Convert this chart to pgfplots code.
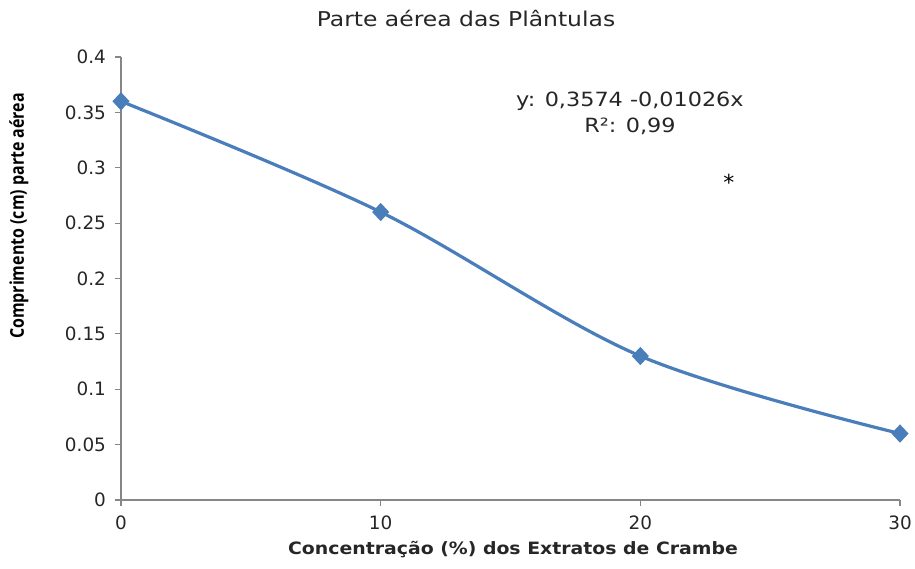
\documentclass[border=0pt]{standalone}
\usepackage{pgfplots}
\pgfplotsset{compat=1.18}
\usepackage{fontspec}
\setmainfont{DejaVu Sans}
\newfontfamily\condfont{Open Sans}
\usepackage{graphicx}
\definecolor{serie}{RGB}{74,126,187}
\definecolor{axgray}{RGB}{134,134,134}
\newcommand{\wide}[1]{\scalebox{1.08}[1]{#1}}
\begin{document}
\begin{tikzpicture}
\useasboundingbox (0,0) rectangle (457.5pt,284pt);
\begin{axis}[
  at={(60.5pt,34pt)}, anchor=south west,
  scale only axis, width=389.5pt, height=221.5pt,
  xmin=0, xmax=30, ymin=0, ymax=0.4,
  xtick={0,10,20,30},
  ytick={0,0.05,0.1,0.15,0.2,0.25,0.3,0.35,0.4},
  yticklabels={0,0.05,0.1,0.15,0.2,0.25,0.3,0.35,0.4},
  xticklabels={0,10,20,30},
  axis x line*=bottom, axis y line*=left,
  axis line style={axgray, line width=0.6pt, -},
  tick style={axgray, line width=0.6pt},
  tick align=outside, major tick length=3pt,
  ticklabel style={font=\fontsize{9.2}{11}\selectfont, text=black!85},
  yticklabel style={xshift=-1pt},
  /pgf/number format/assume math mode=true,
  xticklabel style={yshift=-1.5pt},
  clip=false,
]
\addplot[serie, line width=1.6pt, smooth, tension=0.55, mark=diamond*, mark size=3.4pt, mark options={fill=serie, draw=serie, xscale=1.25}]
  coordinates {(0,0.36) (10,0.26) (20,0.13) (30,0.06)};
\node[font=\fontsize{9.8}{11}\selectfont, text=black!85] at (axis cs:19.6,0.3603) {\scalebox{1.14}[1]{y: 0,3574 -0,01026x}};
\node[font=\fontsize{9.8}{11}\selectfont, text=black!85] at (axis cs:19.6,0.3377) {\scalebox{1.14}[1]{R²: 0,99}};
\node[font=\fontsize{11}{12}\selectfont] at (axis cs:23.41,0.287) {*};
\end{axis}
\node[font=\fontsize{10.2}{12}\selectfont, text=black!85] at (233pt,275pt) {\scalebox{1.15}[1]{Parte aérea das Plântulas}};
\node[font=\bfseries\fontsize{8.5}{11}\selectfont, text=black!85] at (256.5pt,9pt) {\scalebox{1.11}[1]{Concentração (\%) dos Extratos de Crambe}};
\node[rotate=90, text=black] at (9.5pt,176pt) {\scalebox{0.84}[1]{\condfont\fontsize{9.5}{11}\selectfont\bfseries Comprimento (cm) parte aérea}};
\end{tikzpicture}
\end{document}
